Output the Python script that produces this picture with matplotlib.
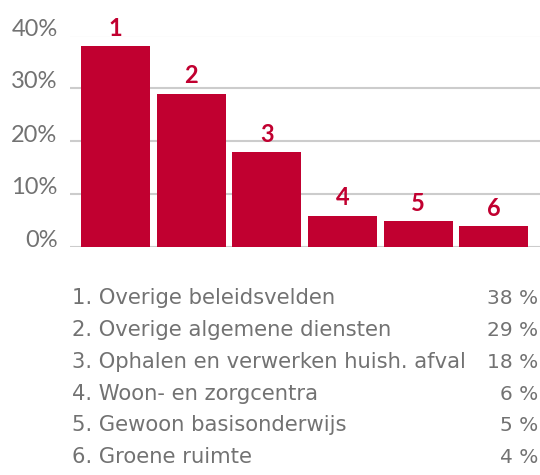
import matplotlib
matplotlib.use("Agg")
import matplotlib.pyplot as plt

categories = ["Overige beleidsvelden", "Overige algemene diensten",
              "Ophalen en verwerken huish. afval", "Woon- en zorgcentra",
              "Gewoon basisonderwijs", "Groene ruimte"]
values = [38, 29, 18, 6, 5, 4]
yticks = [0, 10, 20, 30, 40]
ytick_labels = ["0%", "10%", "20%", "30%", "40%"]

RED = "#C10030"
GRAY = "#727272"
GRID = "#cccccc"
FONT = ["Lato", "DejaVu Sans"]

plt.rcParams["font.family"] = FONT

fig = plt.figure(figsize=(5.4, 4.75), dpi=100)
ax = fig.add_axes([70/540, 1-247.5/475, 470/540, 212/475])

x = list(range(len(values)))
bars = ax.bar(x, values, width=0.913, color=RED, zorder=3)
for i, (xi, v) in enumerate(zip(x, values)):
    ax.annotate(str(i + 1), (xi, v), xytext=(0, 7.5), textcoords="offset points",
                ha="center", va="baseline", color=RED, fontsize=17,
                fontweight="bold", annotation_clip=False)

ax.set_xlim(-0.6, 5.61)
ax.set_ylim(0, 40)
ax.set_yticks(yticks)
ax.set_yticklabels(ytick_labels, fontsize=17, color=GRAY, va="baseline")
ax.tick_params(axis="y", length=0, pad=9)
ax.set_xticks([])
ax.yaxis.grid(True, color=GRID, linewidth=1.5, zorder=0)
ax.set_axisbelow(True)
for s in ax.spines.values():
    s.set_visible(False)

TFONT = ["DejaVu Sans"]
for i, (c, v) in enumerate(zip(categories, values)):
    yb = 1 - (304.5 + 31.7 * i) / 475
    fig.text(72/540, yb, f"{i+1}. {c}", ha="left", va="baseline",
             fontsize=15.2, color=GRAY, family=TFONT)
    fig.text(538/540, yb, f"{v} %", ha="right", va="baseline",
             fontsize=14.5, color=GRAY, family=TFONT)

fig.savefig("out.png", dpi=100)
